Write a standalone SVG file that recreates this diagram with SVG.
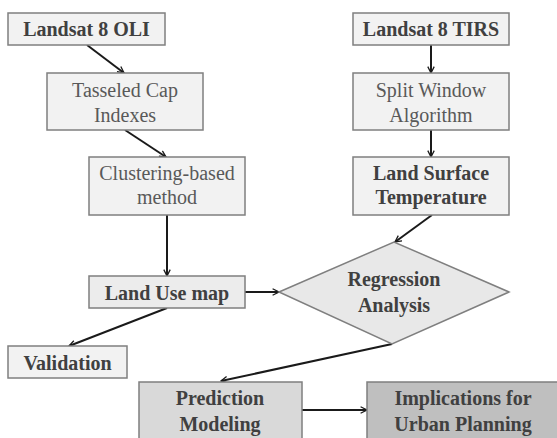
<svg xmlns="http://www.w3.org/2000/svg" width="557" height="438" viewBox="0 0 557 438">
<style>
.box{fill:#f2f2f2;stroke:#7f7f7f;stroke-width:1.5}
.t{font-family:"Liberation Serif","Times New Roman",serif;font-size:20px;text-anchor:middle;fill:#595959}
.b{font-weight:bold;fill:#404040}
.c{fill:none;stroke:#1a1a1a;stroke-width:2;marker-end:url(#ah)}
</style>
<defs>
<marker id="ah" viewBox="0 0 10 10" refX="9" refY="5" markerWidth="8" markerHeight="8" markerUnits="userSpaceOnUse" orient="auto">
<path d="M1,1 L9,5 L1,9" fill="none" stroke="#1a1a1a" stroke-width="1.6"/>
</marker>
</defs>
<rect width="557" height="438" fill="#ffffff"/>
<g id="connectors">
<line class="c" x1="87" y1="45" x2="124" y2="73"/>
<line class="c" x1="125" y1="130" x2="166" y2="157"/>
<line class="c" x1="167" y1="215" x2="167" y2="276"/>
<line class="c" x1="431" y1="45" x2="431" y2="73"/>
<line class="c" x1="431" y1="130" x2="431" y2="157"/>
<line class="c" x1="432" y1="215" x2="395" y2="242"/>
<line class="c" x1="245" y1="292" x2="279" y2="292"/>
<line class="c" x1="167" y1="308" x2="69" y2="346"/>
<line class="c" x1="392" y1="344" x2="221" y2="381"/>
<line class="c" x1="302" y1="410" x2="367" y2="410"/>
</g>
<g id="landsat-oli"><rect class="box" x="8" y="13" width="157" height="32"/><text class="t b" x="86.5" y="36">Landsat 8 OLI</text></g>
<g id="tasseled-cap"><rect class="box" x="47" y="73" width="156" height="57"/><text class="t" x="125" y="97">Tasseled Cap</text><text class="t" x="125" y="122">Indexes</text></g>
<g id="clustering"><rect class="box" x="89" y="157" width="156" height="58"/><text class="t" x="167" y="180">Clustering-based</text><text class="t" x="167" y="204">method</text></g>
<g id="landsat-tirs"><rect class="box" x="353" y="13" width="156" height="32"/><text class="t b" x="431" y="36">Landsat 8 TIRS</text></g>
<g id="split-window"><rect class="box" x="353" y="73" width="156" height="57"/><text class="t" x="431" y="97">Split Window</text><text class="t" x="431" y="122">Algorithm</text></g>
<g id="lst"><rect class="box" x="353" y="157" width="156" height="58"/><text class="t b" x="431" y="180">Land Surface</text><text class="t b" x="431" y="204">Temperature</text></g>
<g id="land-use"><rect class="box" x="89" y="276" width="156" height="32" style="fill:#ececec"/><text class="t b" x="167" y="300">Land Use map</text></g>
<g id="validation"><rect class="box" x="8" y="346" width="119" height="32"/><text class="t b" x="67.5" y="370">Validation</text></g>
<g id="regression"><polygon points="279,292 394,242 509,292 392,344" style="fill:#e8e8e8;stroke:#7f7f7f;stroke-width:1.5"/><text class="t b" x="394" y="286">Regression</text><text class="t b" x="394" y="312">Analysis</text></g>
<g id="prediction"><rect x="139" y="382" width="163" height="60" style="fill:#d9d9d9;stroke:#7f7f7f;stroke-width:1.5"/><text class="t b" x="220" y="405">Prediction</text><text class="t b" x="220" y="431">Modeling</text></g>
<g id="implications"><rect x="367" y="382" width="195" height="60" style="fill:#bfbfbf;stroke:#7f7f7f;stroke-width:1.5"/><text class="t b" x="463" y="405">Implications for</text><text class="t b" x="463" y="431">Urban Planning</text></g>
</svg>
